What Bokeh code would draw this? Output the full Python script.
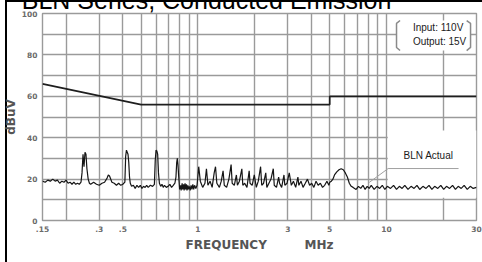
from bokeh.plotting import figure
from bokeh.models import FixedTicker, Label
from bokeh.embed import file_html
from bokeh.resources import INLINE

title_text = "BLN Series, Conducted Emission"
x_label = "FREQUENCY" + "\u00a0" * 9 + "MHz"
y_label = "dBuV"
x_ticks = [0.15, 0.3, 0.4, 1, 3, 5, 10, 30]
x_tick_labels = [".15", ".3", ".5", "1", "3", "5", "10", "30"]
x_grid = [0.15, 0.2, 0.3, 0.4, 0.5, 0.6, 0.7, 0.8, 0.9, 1, 2, 3, 4, 5, 6, 7, 8, 9, 10, 20, 30]
y_ticks = [0, 20, 40, 60, 80, 100]
y_grid = [0, 10, 20, 30, 40, 50, 60, 70, 80, 90, 100]

# limit line (dBuV)
limit_freq = [0.15, 0.5, 5, 5, 30]
limit_db = [66, 56, 56, 60, 60]

actual_freq = [
    0.150, 0.155, 0.160, 0.165, 0.170, 0.175, 0.180, 0.185, 0.190, 0.195, 0.200, 0.205, 0.210, 0.215, 0.220, 0.225, 0.230, 0.235, 0.240,
    0.243, 0.246, 0.249, 0.252, 0.255, 0.258, 0.262, 0.266,
    0.27, 0.28, 0.29, 0.30, 0.31, 0.32, 0.33, 0.335, 0.34, 0.35, 0.36, 0.37, 0.38, 0.39, 0.40, 0.41,
    0.414, 0.418, 0.422, 0.426, 0.43, 0.434, 0.438, 0.445, 0.455, 0.465, 0.475, 0.485, 0.495, 0.505, 0.515, 0.525, 0.535, 0.545, 0.56, 0.575, 0.588,
    0.594, 0.6, 0.606, 0.612, 0.618, 0.625, 0.635, 0.645, 0.655, 0.665, 0.68, 0.695, 0.71, 0.725, 0.74, 0.755, 0.765,
    0.772, 0.778, 0.784, 0.79, 0.796, 0.80,
    0.81, 0.815, 0.825, 0.83, 0.84, 0.845, 0.855, 0.86, 0.87, 0.875, 0.885, 0.89, 0.90, 0.91, 0.92, 0.93, 0.94, 0.95, 0.96, 0.975, 0.99,
    1.01, 1.03, 1.06, 1.09, 1.11, 1.13, 1.16, 1.19, 1.22, 1.24, 1.26, 1.30, 1.33, 1.36, 1.38, 1.42, 1.46, 1.50, 1.52, 1.56, 1.60, 1.62, 1.66,
    1.71, 1.73, 1.77, 1.82, 1.87, 1.89, 1.94, 1.99, 2.04, 2.09, 2.15, 2.18, 2.23, 2.29, 2.32, 2.38, 2.44, 2.51, 2.54, 2.61, 2.68, 2.71, 2.78,
    2.86, 2.89, 2.97, 3.05, 3.13, 3.21, 3.30, 3.39, 3.43, 3.52, 3.61, 3.71, 3.81, 3.91, 4.01, 4.12, 4.23, 4.34, 4.46, 4.58, 4.70, 4.83, 4.95,
    5.0, 5.1, 5.2, 5.3, 5.45, 5.6, 5.75, 5.9, 6.05, 6.2, 6.35, 6.5, 6.65,
    6.9, 7.1, 7.3, 7.5, 7.7, 7.9, 8.1, 8.3, 8.6, 8.9, 9.2, 9.5, 9.8, 10.1, 10.5, 10.9, 11.3, 11.7, 12.1, 12.5, 13.0, 13.5, 14.0, 14.5, 15.0,
    15.6, 16.2, 16.8, 17.4, 18.0, 18.7, 19.4, 20.1, 20.8, 21.6, 22.4, 23.2, 24.0, 24.9, 25.8, 26.8, 27.8, 28.8, 30.0,
]
actual_db = [
    19, 18.5, 19.5, 19, 20, 19, 19.5, 18, 19, 18.5, 19.5, 18, 18.5, 17.5, 18.5, 17.5, 18, 17.5, 18.5,
    23, 32, 26, 33, 32, 25, 20, 18,
    17.5, 18.5, 17.5, 17, 18, 18.5, 20.5, 22, 21.5, 18.5, 18, 17, 18, 17, 17.5, 18.5,
    31, 34, 33, 32, 28, 21, 18, 16.5, 17, 15.5, 17, 16, 17, 15.5, 16.5, 16, 17, 16, 17, 16.5, 17.5,
    29, 34, 33.5, 32, 23, 18, 16.5, 17.5, 16, 17, 16, 16.5, 17.5, 16, 17, 18, 21,
    28, 30, 27, 22, 18, 15,
    17, 14.5, 18, 15, 17.5, 14.5, 18, 15, 17.5, 14.5, 17, 15, 16.5, 14.5, 17, 15, 17.5, 15, 17, 15.5, 17,
    26, 19, 16, 18, 25, 17, 19, 16, 23, 26, 18, 16, 19, 24, 17, 16, 20, 27, 18, 17, 22, 17, 19,
    25, 17, 18, 16, 24, 18, 17, 22, 16, 19, 26, 17, 18, 23, 16, 18, 20, 25, 17, 16, 21, 18, 16,
    22, 17, 18, 23, 17, 19, 16, 21, 17, 19, 16, 18, 20, 17, 18, 16, 19, 17, 18, 16, 17, 19, 17,
    18.5, 19, 20, 22, 23.5, 24.5, 25, 24.5, 23, 21, 18, 16.5, 16,
    15, 16.5, 15.5, 17, 15, 16.5, 15.5, 17, 15, 16.5, 15.5, 17, 15, 16.5, 15.5, 17, 15, 16.5, 15.5, 17, 15, 16.5, 15.5, 17, 15,
    16.5, 15.5, 17, 15, 16.5, 15.5, 17, 15, 16.5, 15.5, 17, 15, 16.5, 15.5, 17, 15, 16.5, 15.5, 16,
]

# annotation boxes / leader (MHz, dBuV)
note_box = dict(left=10.15, right=30, bottom=11, top=43.5)
legend_box = dict(left=11.3, right=27.9, bottom=82.1, top=96.6)
bracket_xs = [[11.8, 11.3, 11.3, 11.8], [26.6, 27.9, 27.9, 26.6]]
bracket_ys = [[96.6, 95.2, 83.6, 82.1], [96.6, 95.2, 83.6, 82.1]]
leader_freq = [8.1, 10.2, 24.1]
leader_db = [18.4, 25.1, 25.1]
note_text = "BLN Actual"
note_pos = (12.3, 31.4)
legend_lines = ["Input: 110V", "Output: 15V"]
legend_pos = [(13.8, 93.2), (13.8, 86.5)]
title_pos = (0.1164, 106.7)

grid_color = "#9a9a9a"
sans = "Liberation Sans"
bold = "DejaVu Sans"

# canvas is lifted so that the frame sits 13px below the window top;
# the outer black frame of the chart is painted behind the transparent border area
lift = 37
frame_y = 37
outer_bg = ("linear-gradient(#000,#000) 5px %dpx / 2px 400px no-repeat, "
            "linear-gradient(#000,#000) 5px %dpx / 480px 2px no-repeat, #ffffff") % (frame_y, frame_y)

p = figure(width=482, height=262 + lift, x_axis_type="log", x_range=(0.15, 30), y_range=(0, 100),
           output_backend="svg", toolbar_location=None, title=None,
           min_border_left=37, min_border_right=6, min_border_top=13 + lift, min_border_bottom=42)
p.styles = {"position": "absolute", "top": "-%dpx" % lift, "left": "0px", "background": outer_bg}
p.background_fill_color = "white"
p.border_fill_alpha = 0
p.outline_line_color = grid_color
p.outline_line_width = 1.4

p.xgrid.ticker = FixedTicker(ticks=x_grid)
p.ygrid.ticker = FixedTicker(ticks=y_grid)
for g in (p.xgrid, p.ygrid):
    g.grid_line_color = grid_color
    g.grid_line_width = 1.4

p.xaxis.ticker = FixedTicker(ticks=x_ticks)
p.xaxis.major_label_overrides = {t: s for t, s in zip(x_ticks, x_tick_labels)}
p.yaxis.ticker = FixedTicker(ticks=y_ticks)
for ax in (p.xaxis, p.yaxis):
    ax.axis_line_color = None
    ax.major_tick_line_color = None
    ax.minor_tick_line_color = None
    ax.major_tick_out = 0
    ax.major_tick_in = 0
    ax.minor_tick_out = 0
    ax.minor_tick_in = 0
    ax.major_label_text_font = bold
    ax.major_label_text_font_style = "bold"
    ax.major_label_text_font_size = "7.5px"
    ax.major_label_text_color = "#6a6a6a"
    ax.axis_label_text_font = bold
    ax.axis_label_text_font_style = "bold"
    ax.axis_label_text_font_size = "12px"
    ax.axis_label_text_color = "#555555"
p.xaxis.major_label_standoff = 5
p.xaxis.axis_label_standoff = 3
p.yaxis.major_label_standoff = 5
p.yaxis.axis_label_standoff = 1
p.xaxis.axis_label = x_label
p.yaxis.axis_label = y_label

# white backgrounds of the notes
p.quad(fill_color="white", line_color=None, **{k: [v] for k, v in note_box.items()})
p.quad(fill_color="white", line_color=None, **{k: [v] for k, v in legend_box.items()})
p.multi_line(bracket_xs, bracket_ys, line_color="#8a8a8a", line_width=1.5)

p.line(limit_freq, limit_db, line_color="#1e1e1e", line_width=1.7)
p.line(actual_freq, actual_db, line_color="#151515", line_width=1.2)
p.line(leader_freq, leader_db, line_color="#a0a0a0", line_width=1)

p.add_layout(Label(x=note_pos[0], y=note_pos[1], text=note_text, text_font=sans,
                   text_font_size="10px", text_color="#1a1a1a", text_baseline="middle"))
for (lx, ly), t in zip(legend_pos, legend_lines):
    p.add_layout(Label(x=lx, y=ly, text=t, text_font=sans, text_font_size="10px",
                       text_color="#1a1a1a", text_baseline="middle"))

# chart title, in the panel above the plot area
p.add_layout(Label(x=title_pos[0], y=title_pos[1], text=title_text,
                   text_font=sans, text_font_size="25px", text_color="black",
                   text_baseline="alphabetic"), "above")

open("out.html", "w").write(file_html(p, INLINE))
